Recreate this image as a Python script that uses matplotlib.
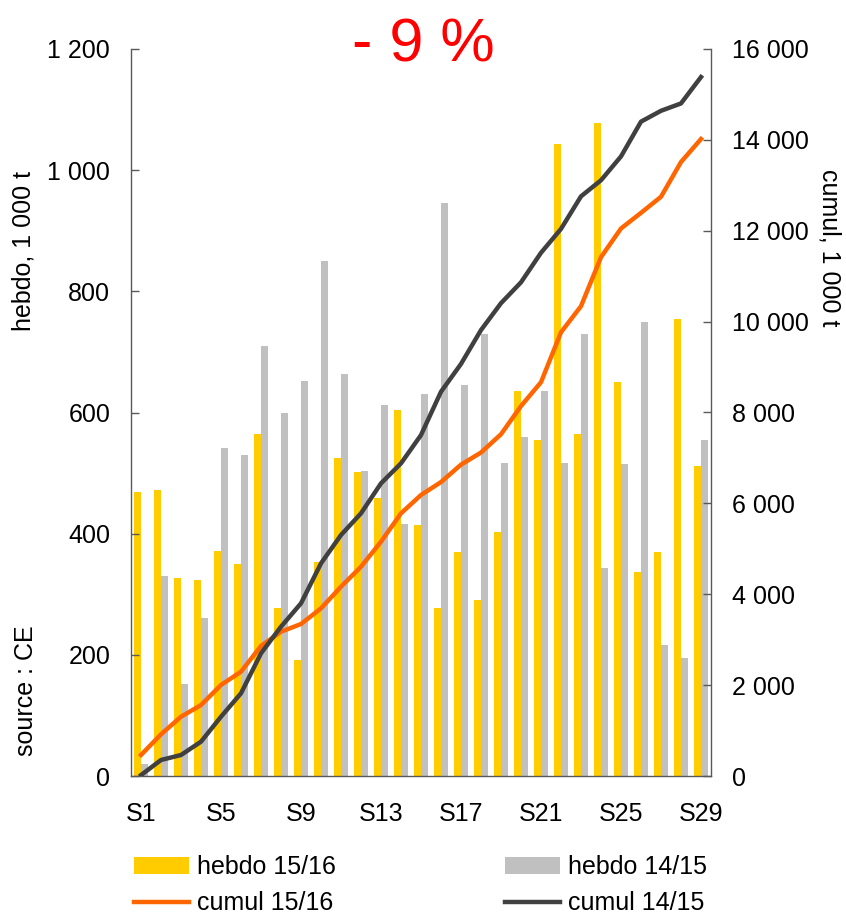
import matplotlib
matplotlib.use("Agg")
import matplotlib.pyplot as plt
from matplotlib.patches import Patch
from matplotlib.lines import Line2D
import numpy as np

plt.rcParams['font.family'] = ['Liberation Sans', 'DejaVu Sans']

weeks = [f"S{i}" for i in range(1, 30)]
hebdo_1516 = [469, 472, 327, 324, 371, 350, 565, 277, 191, 353, 525, 502, 459, 604, 415,
              277, 370, 291, 402, 636, 554, 1043, 564, 1078, 650, 336, 369, 755, 511]
hebdo_1415 = [20, 330, 152, 261, 541, 530, 710, 599, 652, 850, 663, 503, 612, 416, 630,
              945, 646, 729, 516, 560, 636, 516, 729, 343, 515, 749, 217, 194, 554]
cumul_1516 = [462, 918, 1305, 1562, 2003, 2296, 2861, 3176, 3345, 3690, 4166, 4606, 5157, 5781, 6184,
              6469, 6852, 7119, 7521, 8142, 8667, 9766, 10340, 11419, 12050, 12394, 12748, 13512, 14019]
cumul_1415 = [20, 352, 462, 755, 1305, 1820, 2700, 3286, 3800, 4680, 5304, 5781, 6441, 6881, 7504,
              8457, 9069, 9814, 10406, 10865, 11515, 12041, 12757, 13111, 13636, 14401, 14640, 14802, 15383]
left_ticks = [0, 200, 400, 600, 800, 1000, 1200]
right_ticks = [0, 2000, 4000, 6000, 8000, 10000, 12000, 14000, 16000]
shown_weeks = ["S1", "S5", "S9", "S13", "S17", "S21", "S25", "S29"]

YELLOW = '#FFCC00'
GREY = '#C0C0C0'
ORANGE = '#FF6600'
DARK = '#404040'
SPINE = '#595959'
FS = 18

fig = plt.figure(figsize=(8.46, 9.18), dpi=100)
ax = fig.add_axes([131/846, 1 - 776/918, (711-131)/846, (776-49)/918])
x = np.arange(len(weeks))
w = 0.33
ax.bar(x - w/2, hebdo_1516, width=w, color=YELLOW, linewidth=0)
ax.bar(x + w/2, hebdo_1415, width=w, color=GREY, linewidth=0)
ax.set_xlim(-0.5, len(weeks) - 0.5)
ax.set_ylim(0, 1200)
ax.set_yticks(left_ticks)
ax.set_yticklabels([f"{v:,}".replace(",", " ") for v in left_ticks])
ax.set_xticks([weeks.index(s) for s in shown_weeks])
ax.set_xticklabels(shown_weeks)
ax.tick_params(axis='x', length=0, pad=19, labelsize=FS)
ax.tick_params(axis='y', direction='in', length=6, width=1, color=SPINE, pad=15, labelsize=FS)
for s in ['top', 'right']:
    ax.spines[s].set_visible(False)
for s in ['left', 'bottom']:
    ax.spines[s].set_color(SPINE)
    ax.spines[s].set_linewidth(1)

ax2 = ax.twinx()
ax2.plot(x, cumul_1516, color=ORANGE, lw=3.2, solid_joinstyle='round')
ax2.plot(x, cumul_1415, color=DARK, lw=3.2, solid_joinstyle='round')
ax2.set_ylim(0, 16000)
ax2.set_yticks(right_ticks)
ax2.set_yticklabels([f"{v:,}".replace(",", " ") for v in right_ticks])
ax2.tick_params(axis='y', direction='in', length=6, width=1, color=SPINE, pad=15, labelsize=FS)
for s in ['top', 'left', 'bottom']:
    ax2.spines[s].set_visible(False)
ax2.spines['right'].set_color(SPINE)
ax2.spines['right'].set_linewidth(1)

fig.text(24/846, 1 - 251/918, "hebdo, 1 000 t", rotation=90, ha='center', va='center', fontsize=FS)
fig.text(26/846, 1 - 691/918, "source : CE", rotation=90, ha='center', va='center', fontsize=FS)
fig.text(829/846, 1 - 248/918, "cumul, 1 000 t", rotation=270, ha='center', va='center', fontsize=FS)
fig.text(423/846, 1 - 62/918, "- 9 %", ha='center', va='baseline', fontsize=44, color='#FF0000')

handles = [Patch(facecolor=YELLOW, edgecolor='none'),
           Line2D([], [], color=ORANGE, lw=3.2),
           Patch(facecolor=GREY, edgecolor='none'),
           Line2D([], [], color=DARK, lw=3.2)]
labels = ["hebdo 15/16", "cumul 15/16", "hebdo 14/15", "cumul 14/15"]
fig.legend(handles, labels, ncol=2, loc='upper left', bbox_to_anchor=(134/846, 1 - 855/918),
           frameon=False, fontsize=FS, borderpad=0, borderaxespad=0, handlelength=2.2,
           handletextpad=0.3, columnspacing=6.8, labelspacing=0.5, handleheight=0.7)

fig.savefig("out.png", dpi=100)
